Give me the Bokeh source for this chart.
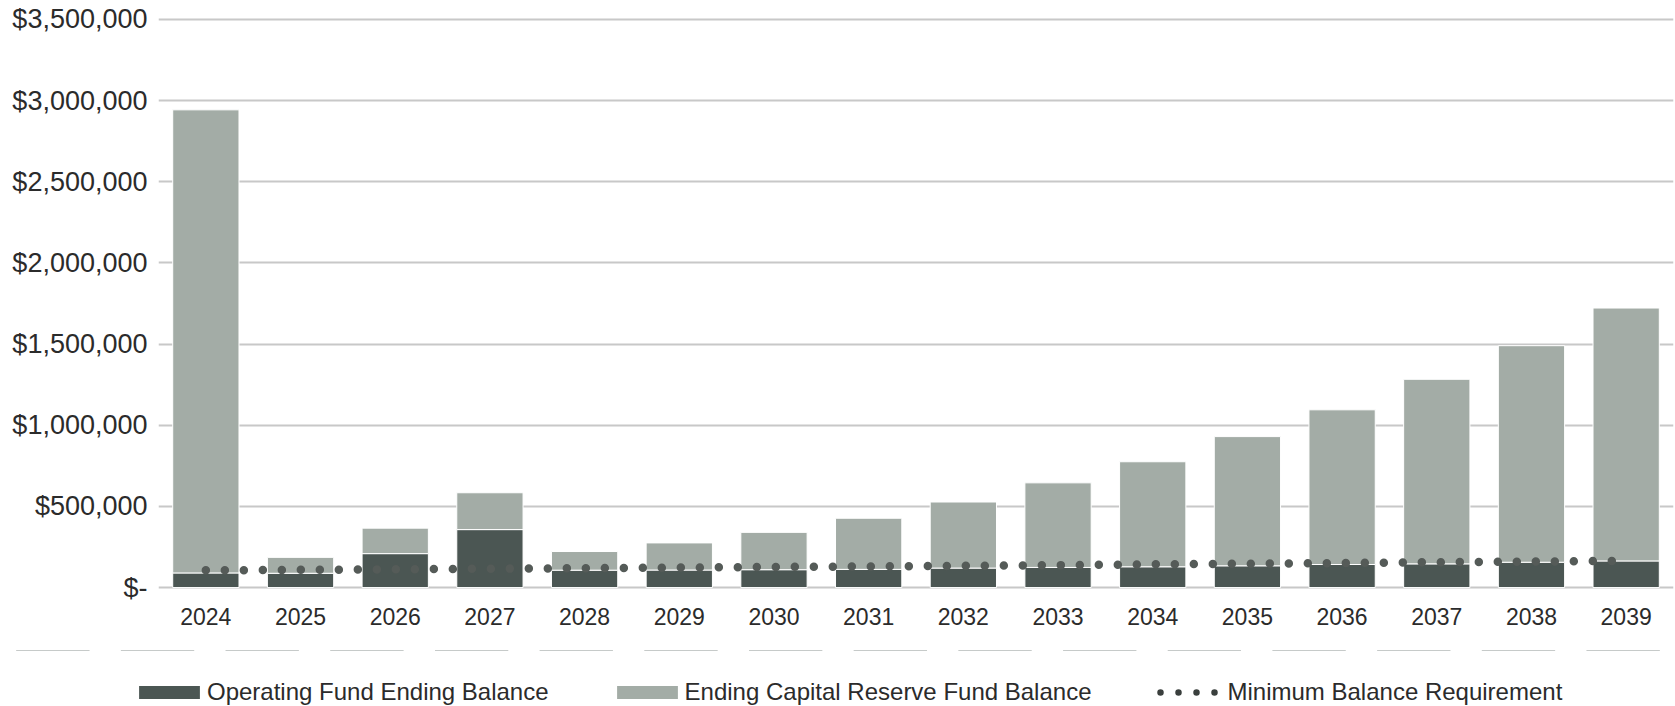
from bokeh.plotting import figure
from bokeh.models import (ColumnDataSource, FactorRange, Range1d, Legend, LegendItem,
                          CustomJSTickFormatter, FixedTicker)
from bokeh.embed import file_html
from bokeh.resources import INLINE

years = [str(y) for y in range(2024, 2040)]
operating = [90000, 88000, 209000, 357000, 107000, 108000, 110000, 112000,
             120000, 124000, 128000, 134000, 142000, 146000, 156000, 164000]
capital = [2853000, 98000, 157000, 227000, 115000, 167000, 230000, 315000,
           407000, 521000, 647000, 796000, 953000, 1137000, 1334000, 1558000]
minimum = [106000, 109000, 112000, 116000, 119000, 123000, 127000, 130000,
           134000, 138000, 143000, 147000, 151000, 156000, 160000, 165000]
y_ticks = [0, 500000, 1000000, 1500000, 2000000, 2500000, 3000000, 3500000]
series_names = ["Operating Fund Ending Balance", "Ending Capital Reserve Fund Balance",
                "Minimum Balance Requirement"]
DARK, LIGHT, DOT = "#4b5653", "#a3aca6", "#555b58"

src = ColumnDataSource(dict(year=years, operating=operating, capital=capital, minimum=minimum))

# ---------------- main chart ----------------
p = figure(x_range=FactorRange(*years), y_range=Range1d(-12000, 3512000),
           width=1675, height=650, output_backend="svg", toolbar_location=None,
           min_border_left=158, min_border_right=2, min_border_top=17, min_border_bottom=61)
p.outline_line_color = None
p.background_fill_color = "white"
p.border_fill_color = "white"

p.vbar_stack(["operating", "capital"], x="year", width=0.7, source=src,
             color=[DARK, LIGHT], line_color="white", line_width=1)
p.line(x="year", y="minimum", source=src, line_color=DOT, line_width=8.5,
       line_dash="0 19", line_cap="round")

p.xgrid.grid_line_color = None
p.ygrid.grid_line_color = "#c8c8c8"
p.ygrid.grid_line_width = 2

p.yaxis.ticker = FixedTicker(ticks=y_ticks)
p.yaxis.formatter = CustomJSTickFormatter(
    code="return tick == 0 ? '$-' : '$' + Math.round(tick).toLocaleString('en-US');")
for ax in (p.xaxis, p.yaxis):
    ax.axis_line_color = None
    ax.major_tick_line_color = None
    ax.minor_tick_line_color = None
    ax.major_label_text_font = "Liberation Sans"
    ax.major_label_text_color = "#2b2b2b"
p.yaxis.major_tick_out = 0
p.yaxis.major_label_text_font_size = "27px"
p.yaxis.major_label_standoff = 11
p.xaxis.major_label_text_font_size = "23px"
p.xaxis.major_label_standoff = 12

# ---------------- legend strip (separate root, same series styles) ----------------
lg = figure(width=1675, height=56, output_backend="svg", toolbar_location=None,
            x_range=FactorRange(*years), y_range=Range1d(-2000000, -1900000),
            x_axis_location=None, y_axis_location=None,
            min_border_left=0, min_border_right=0, min_border_top=0, min_border_bottom=0)
lg.outline_line_color = None
lg.grid.grid_line_color = None
lg.background_fill_color = "white"
lg.border_fill_color = "white"
# zero-height copies of the series, outside this strip's range: only the legend swatches show
r1 = lg.vbar(x="year", top="operating", bottom="operating", width=0.7, source=src,
             fill_color=DARK, line_color=None)
r2 = lg.vbar(x="year", top="capital", bottom="capital", width=0.7, source=src,
             fill_color=LIGHT, line_color=None)
r3 = lg.line(x="year", y="minimum", source=src, line_color="#3a3f3d", line_width=6.5,
             line_dash="0 18", line_dash_offset=10, line_cap="round")

legend = Legend(items=[
    LegendItem(label=series_names[0], renderers=[r1]),
    LegendItem(label=series_names[1], renderers=[r2]),
    LegendItem(label=series_names[2], renderers=[r3]),
], orientation="horizontal", location=(131, 0), glyph_width=76, glyph_height=16,
    label_standoff=0, spacing=60, padding=0, margin=0,
    border_line_color=None, background_fill_alpha=0,
    label_text_font_size="24px", label_text_font="Liberation Sans", label_text_color="#2b2b2b")
lg.add_layout(legend)

open("out.html", "w").write(file_html([p, lg], INLINE))
